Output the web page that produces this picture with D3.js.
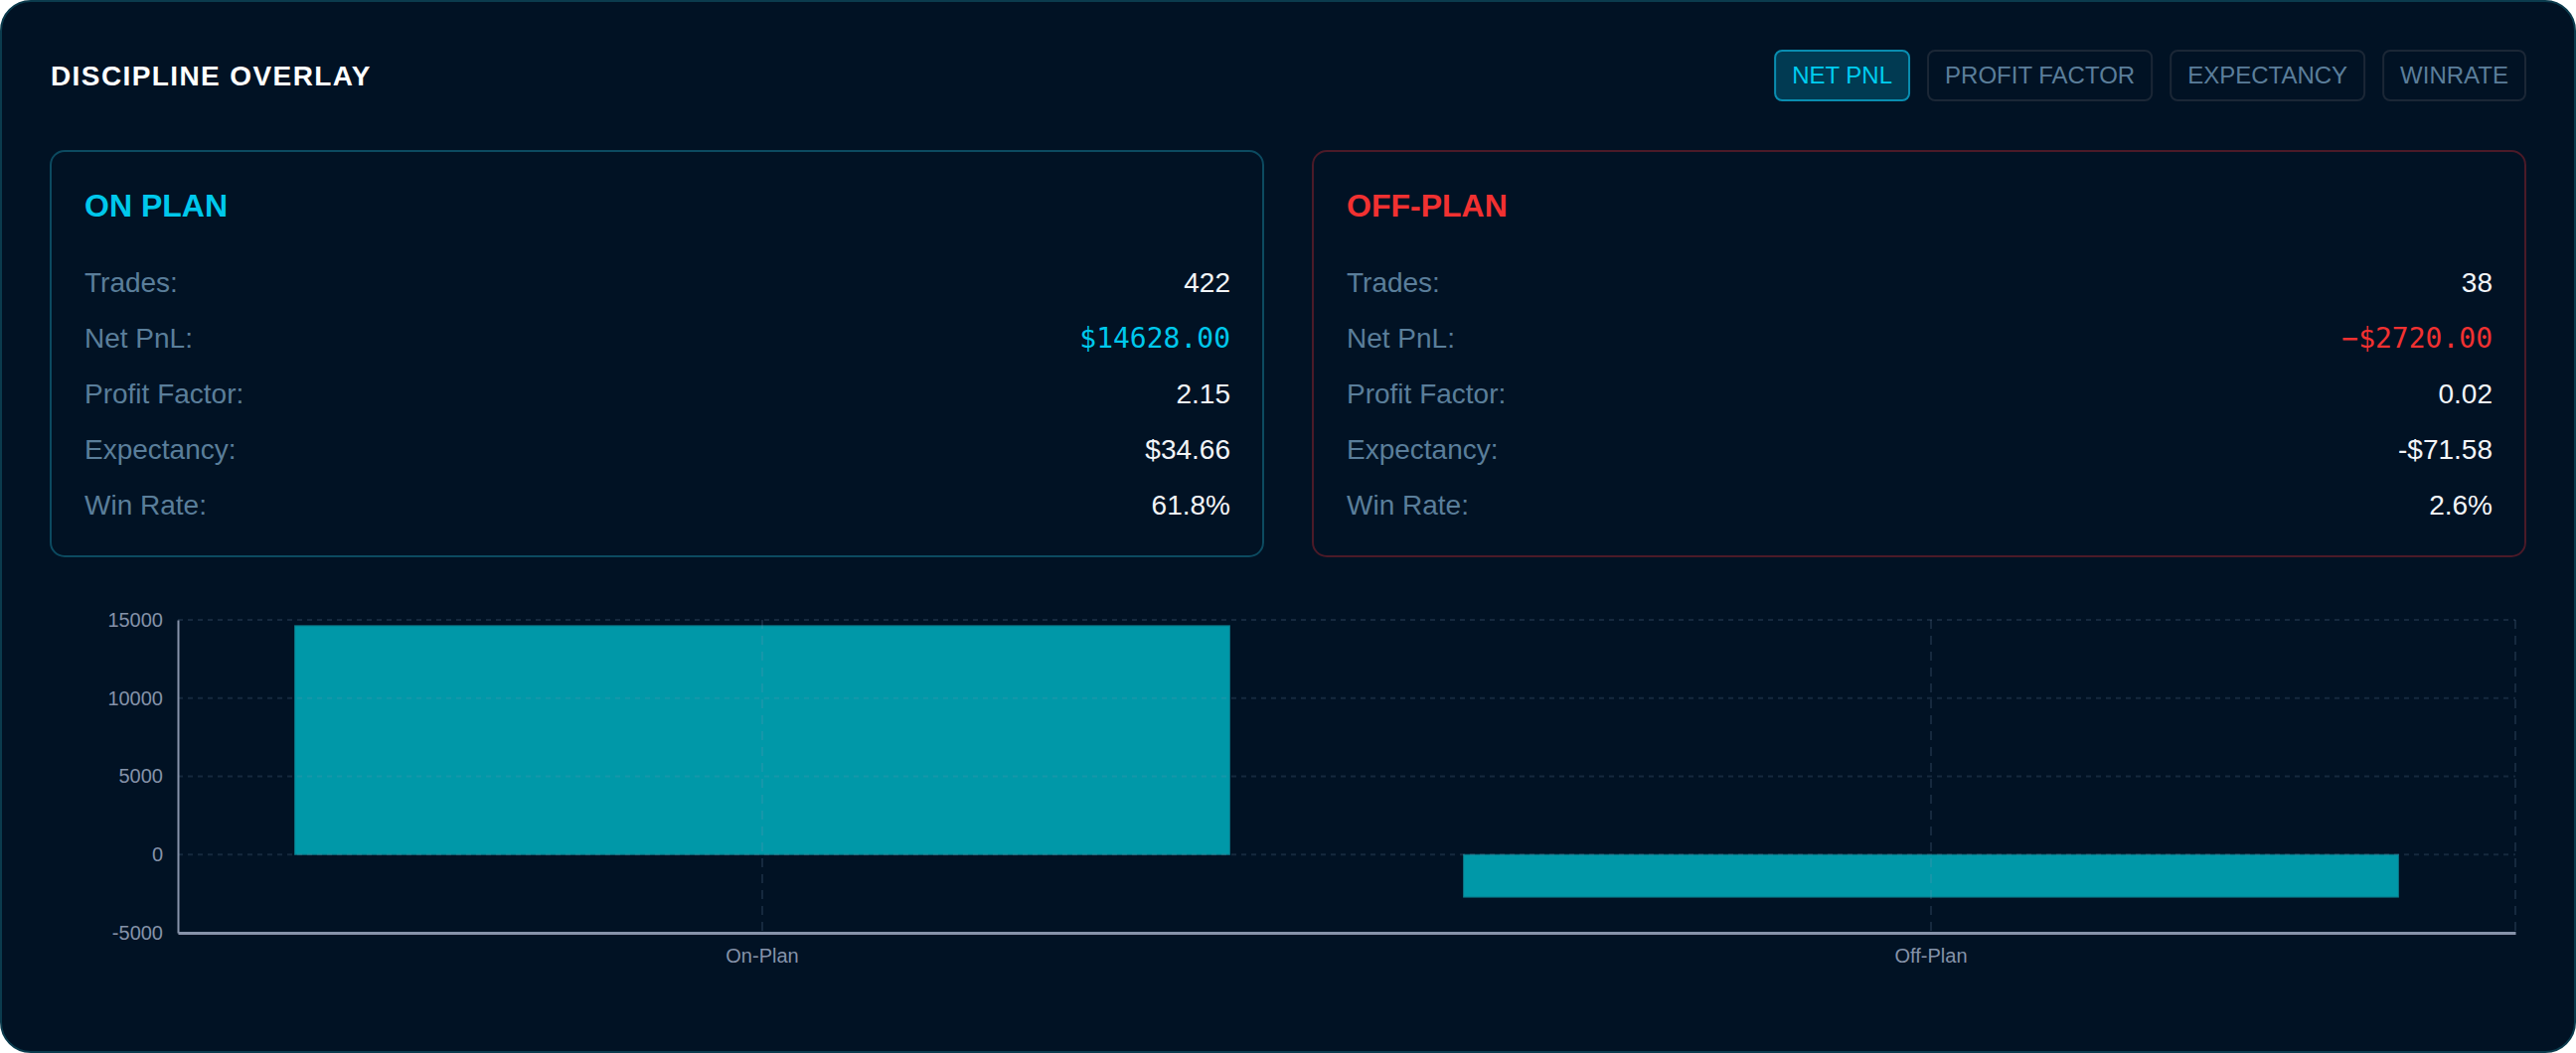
<!DOCTYPE html>
<html>
<head>
<meta charset="utf-8">
<title>Discipline Overlay</title>
<script src="https://cdn.jsdelivr.net/npm/d3@7"></script>
<style>
  html, body { margin: 0; padding: 0; background: #ffffff; }
  #chart { width: 2592px; height: 1060px; }
  text { font-family: "Liberation Sans", Arial, Helvetica, sans-serif; }
</style>
</head>
<body>
<div id="chart"></div>
<script>
"use strict";

// chart data
const categories = ["On-Plan", "Off-Plan"];
const netPnl = [14628, -2720];
const yTicks = [-5000, 0, 5000, 10000, 15000];

// summary cards
const statLabels = ["Trades:", "Net PnL:", "Profit Factor:", "Expectancy:", "Win Rate:"];
const onPlanStats = ["422", "$14628.00", "2.15", "$34.66", "61.8%"];
const offPlanStats = ["38", "\u2212$2720.00", "0.02", "-$71.58", "2.6%"];
const metricTabs = ["NET PNL", "PROFIT FACTOR", "EXPECTANCY", "WINRATE"];

const W = 2592;
const H = 1060;

const colors = {
  bg: "#011224",
  frame: "#0b3b4d",
  label: "#5a7e9a",
  value: "#f2f5f8",
  cyan: "#00c8ec",
  red: "#f23131",
  bar: "#0098a8",
  axis: "#8793aa",
  tick: "#8592a9",
  grid: "rgba(120, 150, 185, 0.18)",
};

window.addEventListener("load", function () {
  draw();
});

function draw() {
  const svg = d3
    .select("#chart")
    .append("svg")
    .attr("width", W)
    .attr("height", H);

  svg
    .append("rect")
    .attr("x", 1)
    .attr("y", 1)
    .attr("width", W - 2)
    .attr("height", H - 2)
    .attr("rx", 30)
    .attr("fill", colors.bg)
    .attr("stroke", colors.frame)
    .attr("stroke-width", 2);

  svg
    .append("text")
    .attr("x", 51)
    .attr("y", 76)
    .attr("dy", "0.35em")
    .attr("fill", "#ffffff")
    .attr("font-size", "28px")
    .attr("font-weight", "bold")
    .attr("letter-spacing", "1.4px")
    .text("DISCIPLINE OVERLAY");

  drawTabs(svg);

  drawCard(svg, 51, "ON PLAN", colors.cyan, "#0c4a60", onPlanStats);
  drawCard(svg, 1321, "OFF-PLAN", colors.red, "#4b1a28", offPlanStats);

  drawBars(svg);
}

// metric buttons, laid out from the right edge
function drawTabs(svg) {
  const right = 2541;
  const gap = 19;
  const padX = 17;
  const top = 51;
  const h = 50;

  const g = svg.append("g").attr("class", "tabs");
  let x = right;
  for (let i = metricTabs.length - 1; i >= 0; i--) {
    const active = i === 0;
    const tab = g.append("g");
    const rect = tab.append("rect");
    const label = tab
      .append("text")
      .attr("y", top + h / 2)
      .attr("dy", "0.35em")
      .attr("font-size", "24px")
      .attr("fill", active ? "#00cdf0" : "#5b7e9a")
      .attr("text-anchor", "middle")
      .text(metricTabs[i]);
    const tw = label.node().getComputedTextLength();
    const bw = tw + padX * 2;
    x -= bw;
    label.attr("x", x + bw / 2);
    rect
      .attr("x", x)
      .attr("y", top)
      .attr("width", bw)
      .attr("height", h)
      .attr("rx", 7)
      .attr("fill", active ? "#013a52" : "none")
      .attr("stroke", active ? "#0a8db0" : "#1b2736")
      .attr("stroke-width", 2);
    x -= gap;
  }
}

function drawCard(svg, x0, title, titleColor, borderColor, stats) {
  const w = 1220;
  const top = 152;
  const h = 408;
  const padL = 34;
  const padR = 33;
  const rowY = d3.scalePoint().domain(statLabels).range([284, 508]);

  const g = svg.append("g").attr("class", "card");

  g.append("rect")
    .attr("x", x0)
    .attr("y", top)
    .attr("width", w)
    .attr("height", h)
    .attr("rx", 14)
    .attr("fill", "none")
    .attr("stroke", borderColor)
    .attr("stroke-width", 2);

  g.append("text")
    .attr("x", x0 + padL)
    .attr("y", 207)
    .attr("dy", "0.35em")
    .attr("fill", titleColor)
    .attr("font-size", "32px")
    .attr("font-weight", "bold")
    .text(title);

  g.selectAll("text.stat-label")
    .data(statLabels)
    .enter()
    .append("text")
    .attr("class", "stat-label")
    .attr("x", x0 + padL)
    .attr("y", (d) => rowY(d))
    .attr("dy", "0.35em")
    .attr("fill", colors.label)
    .attr("font-size", "28px")
    .text((d) => d);

  g.selectAll("text.stat-value")
    .data(stats)
    .enter()
    .append("text")
    .attr("class", "stat-value")
    .attr("x", x0 + w - padR)
    .attr("y", (_, i) => rowY(statLabels[i]))
    .attr("dy", "0.35em")
    .attr("text-anchor", "end")
    .attr("fill", (_, i) => (i === 1 ? titleColor : colors.value))
    .attr("font-size", "28px")
    .style("font-family", (_, i) =>
      i === 1 ? '"DejaVu Sans Mono", "Liberation Mono", monospace' : null
    )
    .text((d) => d);
}

function drawBars(svg) {
  const left = 179;
  const right = 2531;
  const top = 624;
  const bottom = 939;

  const x = d3
    .scaleBand()
    .domain(categories)
    .range([left, right])
    .paddingInner(0.2)
    .paddingOuter(0.1);

  const y = d3
    .scaleLinear()
    .domain([d3.min(yTicks), d3.max(yTicks)])
    .range([bottom, top]);

  const g = svg.append("g").attr("class", "plot");

  // bars
  g.selectAll("rect.bar")
    .data(netPnl)
    .enter()
    .append("rect")
    .attr("class", "bar")
    .attr("x", (_, i) => x(categories[i]))
    .attr("width", x.bandwidth())
    .attr("y", (d) => y(Math.max(0, d)))
    .attr("height", (d) => Math.abs(y(d) - y(0)))
    .attr("fill", colors.bar)
    .attr("stroke", "#0b7585")
    .attr("stroke-width", 1);

  // grid on top of bars, like the original
  const grid = g.append("g").attr("class", "grid");
  grid
    .selectAll("line.h")
    .data(yTicks.filter((t) => t !== d3.min(yTicks)))
    .enter()
    .append("line")
    .attr("class", "h")
    .attr("x1", left)
    .attr("x2", right)
    .attr("y1", (d) => y(d))
    .attr("y2", (d) => y(d))
    .attr("stroke", colors.grid)
    .attr("stroke-width", 2)
    .attr("stroke-dasharray", "5 5");

  const vx = categories.map((c) => x(c) + x.bandwidth() / 2).concat([right]);
  grid
    .selectAll("line.v")
    .data(vx)
    .enter()
    .append("line")
    .attr("class", "v")
    .attr("x1", (d) => d)
    .attr("x2", (d) => d)
    .attr("y1", top)
    .attr("y2", bottom)
    .attr("stroke", colors.grid)
    .attr("stroke-width", 2)
    .attr("stroke-dasharray", "9 7");

  // y axis
  const yAxis = g
    .append("g")
    .attr("transform", `translate(${left},0)`)
    .call(
      d3
        .axisLeft(y)
        .tickValues(yTicks)
        .tickSize(0)
        .tickPadding(15)
        .tickFormat((d) => String(d))
    );
  yAxis.select(".domain").attr("stroke", colors.axis).attr("stroke-width", 2);
  yAxis
    .selectAll("text")
    .attr("fill", colors.tick)
    .attr("font-size", "20px")
    .style("font-family", '"Liberation Sans", Arial, sans-serif');

  // x axis
  const xAxis = g
    .append("g")
    .attr("transform", `translate(0,${bottom})`)
    .call(d3.axisBottom(x).tickSize(0).tickPadding(16));
  xAxis.select(".domain").attr("stroke", colors.axis).attr("stroke-width", 3);
  xAxis
    .selectAll("text")
    .attr("fill", colors.tick)
    .attr("font-size", "20px")
    .style("font-family", '"Liberation Sans", Arial, sans-serif');
}
</script>
</body>
</html>
